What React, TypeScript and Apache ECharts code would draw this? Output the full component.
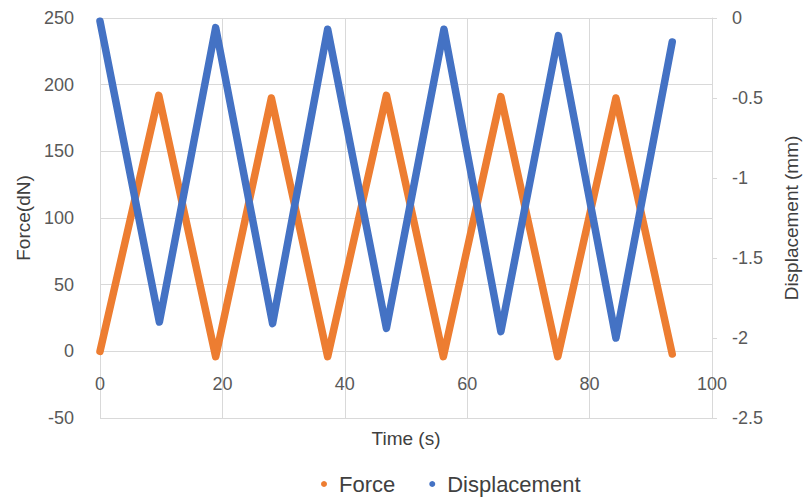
import React, { useEffect, useRef } from "react";
import * as echarts from "echarts";

// Turning points of the cyclic loading test (time in s)
const forceTime = [0, 9.6, 18.9, 28.0, 37.2, 46.8, 56.1, 65.5, 74.8, 84.3, 93.5];
const forceValue = [0, 192, -4, 190, -4, 192, -4, 191, -4, 190, -2];
const dispTime = [0, 9.7, 18.9, 28.2, 37.2, 46.8, 56.2, 65.5, 74.9, 84.3, 93.5];
const dispValue = [-0.02, -1.9, -0.06, -1.91, -0.07, -1.94, -0.07, -1.96, -0.11, -2.0, -0.15];

const seriesNames = ["Force", "Displacement"];
const colors = ["#ED7D31", "#4472C4"];

const FONT = "Liberation Sans, Arial, sans-serif";
const GRID = "#d9d9d9";

export default function App() {
  const ref = useRef<HTMLDivElement>(null);

  useEffect(() => {
    if (!ref.current) return;
    const chart = echarts.init(ref.current, undefined, { renderer: "svg" });

    const forceData = forceTime.map((t, i) => [t, forceValue[i]]);
    const dispData = dispTime.map((t, i) => [t, dispValue[i]]);

    // grid height 400 px over 300 dN: the time axis crosses at force = 0
    const gridTop = 18;
    const gridBottom = 81;
    const gridHeight = 499 - gridTop - gridBottom;
    const zeroOffset = Math.round((gridHeight * 50) / 300);

    chart.setOption({
      animation: false,
      color: colors,
      textStyle: { fontFamily: FONT },
      grid: { left: 100, right: 91, top: gridTop, bottom: gridBottom },
      legend: {
        data: seriesNames,
        left: 316,
        top: 468,
        icon: "circle",
        itemWidth: 6,
        itemHeight: 6,
        itemGap: 34,
        textStyle: { fontSize: 22, color: "#404040", fontFamily: FONT, padding: [0, 0, 0, 7] },
      },
      xAxis: {
        type: "value",
        position: "bottom",
        offset: -zeroOffset,
        min: 0,
        max: 100,
        interval: 20,
        name: "Time (s)",
        nameLocation: "middle",
        nameGap: 78,
        nameTextStyle: { fontSize: 19, color: "#404040" },
        axisLine: { onZero: false, lineStyle: { color: GRID, width: 1 } },
        axisTick: { show: false },
        axisLabel: { fontSize: 18, color: "#595959", margin: 24 },
        splitLine: { show: true, lineStyle: { color: GRID, width: 1 } },
      },
      yAxis: [
        {
          type: "value",
          min: -50,
          max: 250,
          interval: 50,
          name: "Force(dN)",
          nameLocation: "middle",
          nameGap: 60,
          nameTextStyle: { fontSize: 19, color: "#404040" },
          axisLine: { show: false },
          axisTick: { show: false },
          axisLabel: { fontSize: 18, color: "#595959", margin: 26 },
          splitLine: { show: true, lineStyle: { color: GRID, width: 1 } },
        },
        {
          type: "value",
          position: "right",
          min: -2.5,
          max: 0,
          interval: 0.5,
          alignTicks: false,
          name: "Displacement (mm)",
          nameLocation: "middle",
          nameGap: 70,
          nameTextStyle: { fontSize: 19, color: "#404040" },
          axisLine: { show: true, lineStyle: { color: GRID, width: 1 } },
          axisTick: { show: true, length: 5, lineStyle: { color: GRID } },
          axisLabel: { fontSize: 18, color: "#595959", margin: 20 },
          splitLine: { show: false },
        },
      ],
      series: [
        {
          name: seriesNames[0],
          type: "line",
          yAxisIndex: 0,
          data: forceData,
          showSymbol: false,
          symbol: "circle",
          lineStyle: { width: 7.5, color: colors[0], cap: "round", join: "round" },
          itemStyle: { color: colors[0] },
        },
        {
          name: seriesNames[1],
          type: "line",
          yAxisIndex: 1,
          data: dispData,
          showSymbol: false,
          symbol: "circle",
          lineStyle: { width: 7.5, color: colors[1], cap: "round", join: "round" },
          itemStyle: { color: colors[1] },
        },
      ],
    });

    return () => chart.dispose();
  }, []);

  return <div ref={ref} style={{ width: 809, height: 499, position: "fixed", left: 0, top: 0, background: "#fff" }} />;
}
